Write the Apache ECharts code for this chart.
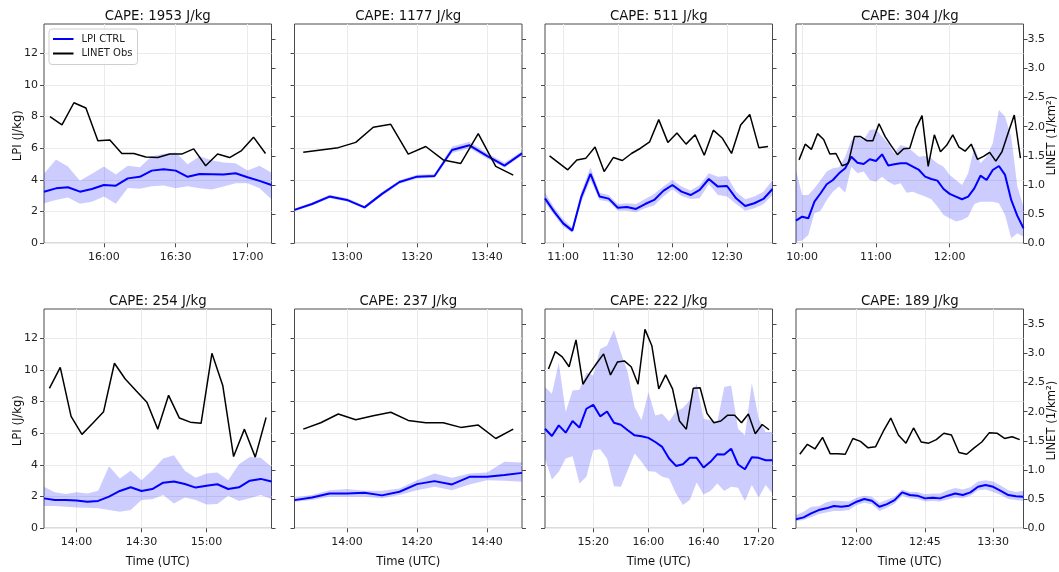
<!DOCTYPE html>
<html>
<head>
<meta charset="utf-8">
<script src="https://cdn.jsdelivr.net/npm/echarts@6/dist/echarts.min.js"></script>
<style>
  html, body { margin: 0; padding: 0; background: #ffffff; }
  #chart { width: 1059px; height: 572px; }
</style>
</head>
<body>
<div id="chart"></div>
<script>
// ---- panel metadata -------------------------------------------------------
const capeValues = [1953, 1177, 511, 304, 254, 237, 222, 189];
// first model time of each case (5-minute output); observations sit mid-interval
const modelStart = ['15:35', '12:45', '10:50', '09:55', '13:45', '13:45', '14:45', '11:20'];
const obsStart   = ['15:37:30', '12:47:30', '10:52:30', '09:57:30', '13:47:30', '13:47:30', '14:47:30', '11:22:30'];
const timeTicks = [
  ['16:00', '16:30', '17:00'],
  ['13:00', '13:20', '13:40'],
  ['11:00', '11:30', '12:00', '12:30'],
  ['10:00', '11:00', '12:00'],
  ['14:00', '14:30', '15:00'],
  ['14:00', '14:20', '14:40'],
  ['15:20', '16:00', '16:40', '17:20'],
  ['12:00', '12:45', '13:30']
];
const lpiTicks = [0, 2, 4, 6, 8, 10, 12];
const linetTicks = [0, 0.5, 1.0, 1.5, 2.0, 2.5, 3.0, 3.5];

// ---- LPI CTRL ensemble mean (J/kg) and spread bounds ------------------------
const lpi1 = [3.26, 3.47, 3.54, 3.26, 3.43, 3.68, 3.64, 4.10, 4.20, 4.59, 4.67, 4.59, 4.20, 4.38, 4.36, 4.34, 4.42, 4.17, 3.94, 3.68];
const hi1  = [4.40, 5.30, 4.85, 3.95, 4.40, 4.85, 4.35, 4.90, 4.80, 5.50, 5.65, 5.73, 5.00, 5.50, 5.25, 5.10, 5.05, 4.60, 4.90, 4.45];
const lo1  = [2.53, 2.74, 2.90, 2.50, 2.63, 2.95, 2.50, 3.50, 3.45, 3.60, 3.65, 3.47, 3.60, 3.47, 3.40, 3.58, 3.80, 3.80, 3.47, 2.78];

const lpi2 = [2.11, 2.48, 2.95, 2.74, 2.27, 3.12, 3.87, 4.21, 4.25, 5.89, 6.19, 5.52, 4.91, 5.68];
const hi2  = [2.20, 2.58, 3.06, 2.85, 2.37, 3.24, 3.98, 4.33, 4.37, 6.12, 6.42, 5.70, 5.08, 5.82];
const lo2  = [2.02, 2.38, 2.85, 2.64, 2.18, 3.00, 3.76, 4.10, 4.14, 5.70, 6.00, 5.36, 4.78, 5.55];

const lpi3 = [2.84, 2.00, 1.26, 0.80, 2.95, 4.38, 2.95, 2.82, 2.25, 2.29, 2.17, 2.48, 2.74, 3.31, 3.68, 3.26, 3.05, 3.37, 4.06, 3.58, 3.62, 2.84, 2.36, 2.53, 2.80, 3.43];
const hi3  = [3.20, 2.27, 1.52, 0.99, 3.26, 4.80, 3.20, 3.05, 2.48, 2.53, 2.48, 2.80, 3.12, 3.58, 4.00, 3.58, 3.33, 3.68, 4.42, 4.21, 4.25, 3.26, 2.78, 2.95, 3.26, 4.00];
const lo3  = [2.57, 1.79, 1.05, 0.67, 2.63, 4.00, 2.74, 2.63, 2.06, 2.06, 1.96, 2.21, 2.38, 2.95, 3.41, 2.99, 2.80, 2.84, 3.75, 3.05, 2.95, 2.48, 2.06, 2.21, 2.46, 3.05];

const lpi4 = [1.43, 1.68, 1.58, 2.63, 3.16, 3.73, 4.00, 4.42, 4.74, 5.47, 5.09, 5.01, 5.31, 5.20, 5.62, 4.91, 4.99, 5.05, 5.05, 4.84, 4.63, 4.21, 4.06, 3.96, 3.43, 3.12, 2.95, 2.78, 2.95, 3.47, 4.27, 4.00, 4.63, 4.88, 4.32, 2.74, 1.73, 0.95];
const hi4  = [4.63, 3.05, 3.05, 3.47, 4.00, 4.53, 4.74, 4.80, 5.47, 6.53, 6.74, 6.53, 7.16, 7.20, 6.74, 6.32, 5.68, 6.21, 6.10, 5.79, 5.47, 5.52, 5.37, 5.05, 4.84, 4.32, 4.00, 3.68, 4.42, 6.10, 5.05, 5.47, 6.32, 8.42, 8.00, 6.74, 3.58, 2.32];
const lo4  = [0.10, 0.17, 0.53, 1.89, 2.06, 2.74, 3.26, 3.58, 3.20, 4.84, 4.42, 4.53, 4.00, 3.89, 4.21, 3.89, 3.68, 3.79, 3.20, 3.26, 3.09, 2.95, 2.78, 2.32, 1.79, 1.58, 1.37, 1.47, 1.68, 2.48, 2.63, 2.63, 2.63, 2.53, 1.79, 0.32, 0.63, 0.42];

const lpi5 = [1.89, 1.79, 1.79, 1.75, 1.68, 1.73, 2.00, 2.36, 2.59, 2.36, 2.48, 2.88, 2.95, 2.80, 2.57, 2.69, 2.78, 2.48, 2.59, 3.01, 3.12, 2.95];
const hi5  = [2.62, 2.27, 2.16, 2.27, 2.20, 2.37, 3.92, 3.15, 3.63, 3.04, 3.67, 4.41, 4.62, 3.63, 3.19, 3.46, 3.52, 3.04, 4.05, 4.51, 4.45, 3.88];
const lo5  = [1.41, 1.41, 1.36, 1.32, 1.30, 1.26, 1.15, 1.05, 1.15, 1.78, 1.83, 2.10, 1.57, 1.95, 1.78, 1.51, 1.53, 2.06, 1.72, 1.89, 2.10, 1.85];

const lpi6 = [1.78, 1.95, 2.20, 2.20, 2.24, 2.08, 2.31, 2.79, 2.98, 2.77, 3.25, 3.25, 3.36, 3.50];
const hi6  = [1.95, 2.10, 2.41, 2.48, 2.37, 2.37, 2.52, 3.04, 3.46, 3.19, 3.46, 3.52, 4.20, 4.15];
const lo6  = [1.68, 1.78, 1.99, 1.99, 1.99, 1.89, 2.10, 2.41, 2.62, 2.41, 2.77, 3.04, 3.00, 2.94];

const lpi7 = [6.29, 5.83, 6.50, 6.04, 6.78, 6.36, 7.55, 7.80, 7.07, 7.38, 6.67, 6.54, 6.19, 5.87, 5.81, 5.71, 5.45, 5.14, 4.41, 3.94, 4.05, 4.45, 4.45, 3.84, 4.20, 4.68, 4.66, 5.03, 4.03, 3.73, 4.49, 4.45, 4.30, 4.30];
const hi7  = [8.92, 8.50, 10.45, 7.34, 8.71, 8.75, 9.82, 9.65, 11.33, 11.54, 12.52, 11.12, 9.86, 7.66, 6.82, 8.60, 7.13, 7.24, 6.75, 7.38, 7.59, 8.08, 9.13, 6.92, 6.82, 6.71, 8.92, 9.02, 6.29, 5.87, 9.17, 6.92, 6.08, 6.08];
const lo7  = [4.41, 3.08, 3.57, 4.41, 4.55, 2.83, 3.25, 4.93, 4.99, 4.41, 2.66, 2.62, 3.67, 4.72, 4.20, 3.61, 3.57, 3.25, 3.15, 2.20, 1.47, 1.78, 2.90, 2.14, 2.35, 2.83, 2.35, 2.62, 2.56, 1.72, 2.73, 1.95, 2.73, 2.20];

const lpi8 = [0.57, 0.69, 0.94, 1.15, 1.26, 1.41, 1.36, 1.43, 1.68, 1.85, 1.74, 1.36, 1.53, 1.78, 2.27, 2.10, 2.06, 1.89, 1.93, 1.89, 2.06, 2.20, 2.10, 2.27, 2.62, 2.73, 2.62, 2.37, 2.10, 2.03, 1.99];
const hi8  = [0.84, 1.05, 1.36, 1.40, 1.64, 1.75, 1.72, 1.70, 1.93, 2.05, 2.00, 1.62, 1.80, 2.00, 2.45, 2.30, 2.30, 2.15, 2.20, 2.20, 2.40, 2.55, 2.45, 2.60, 2.95, 3.04, 2.95, 2.70, 2.40, 2.30, 2.37];
const lo8  = [0.46, 0.52, 0.69, 0.90, 1.00, 1.10, 1.10, 1.15, 1.47, 1.62, 1.52, 1.09, 1.30, 1.55, 2.05, 1.90, 1.85, 1.70, 1.72, 1.70, 1.82, 1.95, 1.90, 2.05, 2.41, 2.45, 2.30, 2.10, 1.85, 1.78, 1.72];

// ---- LINET observed flash density (1/km^2) -------------------------------
const linet1 = [2.17, 2.03, 2.41, 2.32, 1.76, 1.77, 1.54, 1.54, 1.48, 1.47, 1.53, 1.53, 1.62, 1.33, 1.53, 1.47, 1.59, 1.82, 1.54];
const linet2 = [1.56, 1.60, 1.64, 1.73, 1.99, 2.04, 1.53, 1.66, 1.43, 1.37, 1.88, 1.32, 1.17];
const linet3 = [1.50, 1.38, 1.26, 1.43, 1.46, 1.65, 1.23, 1.47, 1.42, 1.54, 1.63, 1.74, 2.12, 1.73, 1.89, 1.70, 1.86, 1.51, 1.94, 1.80, 1.54, 2.03, 2.21, 1.64, 1.66];
const linet4 = [1.43, 1.70, 1.61, 1.88, 1.78, 1.53, 1.54, 1.33, 1.37, 1.83, 1.83, 1.76, 1.76, 2.05, 1.83, 1.67, 1.52, 1.62, 1.63, 1.97, 2.19, 1.32, 1.86, 1.57, 1.68, 1.86, 1.65, 1.58, 1.70, 1.44, 1.49, 1.56, 1.41, 1.57, 1.89, 2.20, 1.46];
const linet5 = [2.40, 2.76, 1.92, 1.61, 1.80, 2.00, 2.83, 2.56, 2.36, 2.16, 1.70, 2.28, 1.89, 1.82, 1.80, 3.00, 2.45, 1.23, 1.70, 1.22, 1.90];
const linet6 = [1.70, 1.81, 1.96, 1.86, 1.93, 1.99, 1.85, 1.81, 1.81, 1.73, 1.77, 1.54, 1.70];
const linet7 = [2.73, 3.03, 2.94, 2.77, 3.23, 2.47, 2.66, 2.83, 2.99, 2.63, 2.85, 2.87, 2.77, 2.47, 3.41, 3.13, 2.39, 2.63, 2.39, 1.84, 1.70, 2.40, 2.41, 1.97, 1.81, 1.84, 1.94, 1.94, 1.81, 1.96, 1.62, 1.78, 1.69];
const linet8 = [1.27, 1.44, 1.36, 1.56, 1.28, 1.28, 1.27, 1.54, 1.49, 1.38, 1.40, 1.66, 1.89, 1.60, 1.46, 1.72, 1.48, 1.46, 1.52, 1.63, 1.60, 1.30, 1.27, 1.38, 1.48, 1.64, 1.63, 1.54, 1.57, 1.52];

const lpiSets   = [lpi1, lpi2, lpi3, lpi4, lpi5, lpi6, lpi7, lpi8];
const hiSets    = [hi1, hi2, hi3, hi4, hi5, hi6, hi7, hi8];
const loSets    = [lo1, lo2, lo3, lo4, lo5, lo6, lo7, lo8];
const linetSets = [linet1, linet2, linet3, linet4, linet5, linet6, linet7, linet8];

// ---- helpers --------------------------------------------------------------
const STEP = 5; // minutes between outputs
function toMinutes(s) {
  const p = s.split(':').map(Number);
  return p[0] * 60 + p[1] + (p[2] || 0) / 60;
}
function toClock(m) {
  const h = Math.floor(m / 60), mm = Math.round(m - h * 60);
  return String(h).padStart(2, '0') + ':' + String(mm).padStart(2, '0');
}
function series2(start, values) {
  return values.map((v, k) => [start + k * STEP, v]);
}

// ---- layout ---------------------------------------------------------------
const FONT = '"DejaVu Sans", "Liberation Sans", sans-serif';
const TEXT = '#222222';
const colLeft = [44, 294.5, 545, 796];
const rowTop = [24, 309];
const plotW = 227.5, plotH = 219.3;
const LPI_MAX = 13.85, LINET_MAX = 3.76;
const BLUE = '#0000ff';
const SPREAD_FILL = 'rgba(0,0,255,0.2)';

const grids = [], xAxes = [], yAxes = [], series = [], graphics = [];

// spread band: one polygon (upper bound forward, lower bound back) per panel
function spreadRenderer(rows) {
  return function (params, api) {
    if (params.dataIndex !== 0) return null;
    const upper = rows.map(r => api.coord([r[0], r[2]]));
    const lower = rows.map(r => api.coord([r[0], r[1]])).reverse();
    return {
      type: 'polygon',
      shape: { points: upper.concat(lower) },
      style: { fill: SPREAD_FILL, stroke: null },
      silent: true
    };
  };
}

for (let i = 0; i < 8; i++) {
  const row = i < 4 ? 0 : 1, col = i % 4;
  const t0 = toMinutes(modelStart[i]);
  const tObs = toMinutes(obsStart[i]);
  const n = lpiSets[i].length;
  const tickVals = timeTicks[i].map(toMinutes);

  grids.push({
    left: colLeft[col], top: rowTop[row], width: plotW, height: plotH,
    show: true, borderColor: '#4a4a4a', borderWidth: 1,
    containLabel: false, outerBoundsMode: 'none'
  });

  xAxes.push({
    type: 'value', gridIndex: i,
    min: t0, max: t0 + STEP * (n - 1),
    axisLine: { show: false },
    axisTick: { show: true, length: 4, customValues: tickVals, lineStyle: { color: '#4a4a4a' } },
    axisLabel: {
      customValues: tickVals, margin: 8, fontSize: 11, color: TEXT, fontFamily: FONT,
      formatter: v => toClock(v)
    },
    splitLine: { show: true, lineStyle: { color: '#ebebeb', width: 1 } }
  });

  yAxes.push({
    type: 'value', gridIndex: i, position: 'left',
    min: 0, max: LPI_MAX,
    axisLine: { show: false },
    axisTick: { show: true, length: 4, customValues: lpiTicks, lineStyle: { color: '#4a4a4a' } },
    axisLabel: {
      show: col === 0, customValues: lpiTicks, margin: 6, fontSize: 11, color: TEXT, fontFamily: FONT
    },
    splitLine: { show: true, lineStyle: { color: '#ebebeb', width: 1 } }
  });
  yAxes.push({
    type: 'value', gridIndex: i, position: 'right',
    min: 0, max: LINET_MAX,
    axisLine: { show: false },
    axisTick: { show: true, length: 4, customValues: linetTicks, lineStyle: { color: '#4a4a4a' } },
    axisLabel: {
      show: col === 3, customValues: linetTicks, margin: 4, fontSize: 11, color: TEXT, fontFamily: FONT,
      formatter: v => v.toFixed(1)
    },
    splitLine: { show: false }
  });

  const lo = loSets[i], hi = hiSets[i];
  const bandRows = lo.map((v, k) => [t0 + k * STEP, v, hi[k]]);
  series.push({
    type: 'custom', name: 'spread', xAxisIndex: i, yAxisIndex: 2 * i,
    data: bandRows, encode: { x: 0, y: [1, 2] },
    renderItem: spreadRenderer(bandRows), silent: true, clip: true, z: 1
  });
  series.push({
    type: 'line', name: 'LPI CTRL', xAxisIndex: i, yAxisIndex: 2 * i,
    data: series2(t0, lpiSets[i]), symbol: 'none',
    itemStyle: { color: BLUE }, lineStyle: { color: BLUE, width: 2 }, z: 3
  });
  series.push({
    type: 'line', name: 'LINET Obs', xAxisIndex: i, yAxisIndex: 2 * i + 1,
    data: series2(tObs, linetSets[i]), symbol: 'none',
    itemStyle: { color: '#000000' }, lineStyle: { color: '#000000', width: 1.5 }, z: 4
  });

  // panel title
  graphics.push({
    type: 'text', x: colLeft[col] + plotW / 2, y: row === 0 ? 16.5 : 301.5, silent: true,
    style: {
      text: 'CAPE: ' + capeValues[i] + ' J/kg', fill: '#111', font: '13.3px ' + FONT,
      align: 'center', verticalAlign: 'middle'
    }
  });
  if (row === 1) {
    graphics.push({
      type: 'text', x: colLeft[col] + plotW / 2, y: 562, silent: true,
      style: { text: 'Time (UTC)', fill: '#111', font: '11.6px ' + FONT, align: 'center', verticalAlign: 'middle' }
    });
  }
}

// y-axis titles
[0, 1].forEach(row => {
  const cy = rowTop[row] + plotH / 2 + 2;
  graphics.push({
    type: 'text', x: 17.5, y: cy, rotation: Math.PI / 2, silent: true,
    style: { text: 'LPI (J/kg)', fill: '#111', font: '11.6px ' + FONT, align: 'center', verticalAlign: 'middle' }
  });
  graphics.push({
    type: 'text', x: 1052, y: cy, rotation: Math.PI / 2, silent: true,
    style: { text: 'LINET (1/km²)', fill: '#111', font: '11.6px ' + FONT, align: 'center', verticalAlign: 'middle' }
  });
});

const chart = echarts.init(document.getElementById('chart'), null, { renderer: 'canvas' });
chart.setOption({
  animation: false,
  backgroundColor: '#ffffff',
  textStyle: { fontFamily: FONT },
  grid: grids,
  xAxis: xAxes,
  yAxis: yAxes,
  legend: {
    data: ['LPI CTRL', 'LINET Obs'],
    orient: 'vertical', left: 49, top: 29,
    icon: 'rect', itemWidth: 20.5, itemHeight: 2, itemGap: 2.5,
    padding: [4, 5, 5, 4],
    selectedMode: false,
    backgroundColor: 'rgba(255,255,255,0.85)',
    borderColor: '#cfcfcf', borderWidth: 1, borderRadius: 3,
    textStyle: { fontSize: 10, color: TEXT, fontFamily: FONT, lineHeight: 12, padding: [0, 0, 0, 3] }
  },
  graphic: graphics,
  series: series
});
</script>
</body>
</html>
